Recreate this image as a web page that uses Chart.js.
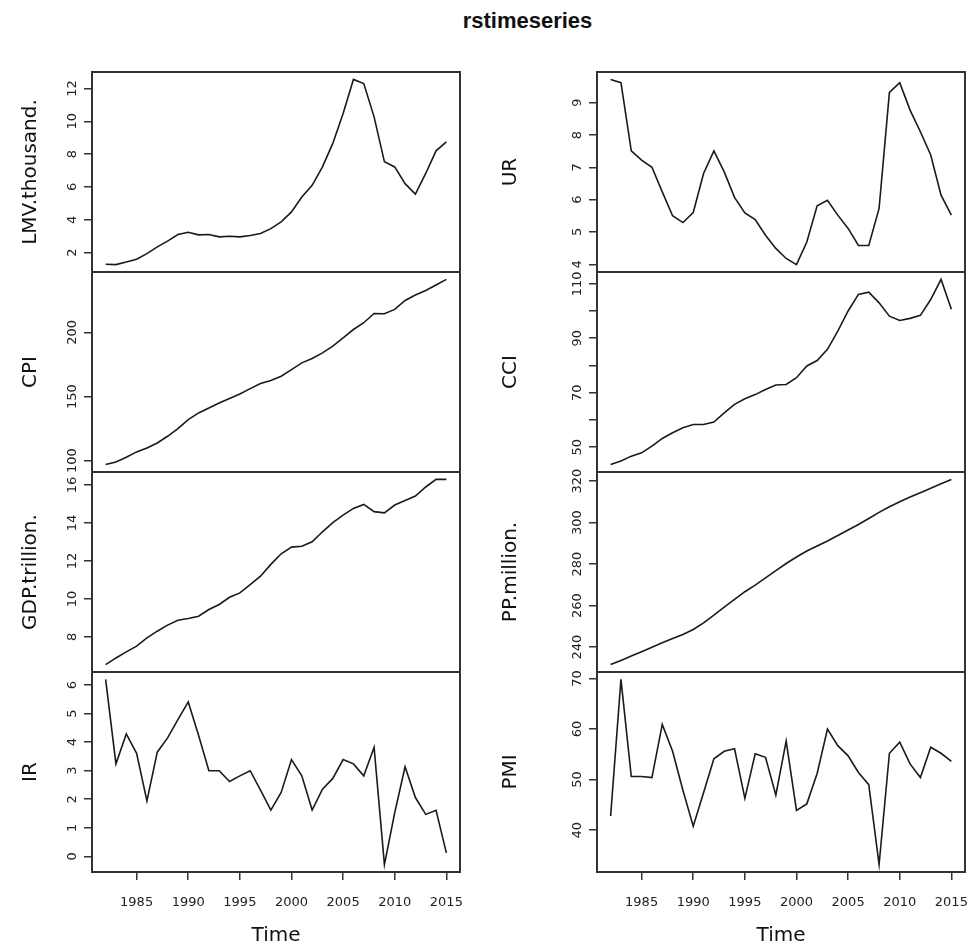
<!DOCTYPE html>
<html>
<head>
<meta charset="utf-8">
<script src="https://cdn.jsdelivr.net/npm/chart.js@4.4.1/dist/chart.umd.min.js"></script>
<style>
body { margin: 0; background: #fff; width: 971px; height: 952px; position: relative; overflow: hidden; }
canvas { position: absolute; }
#title { position: absolute; left: 0; width: 1055px; top: 8px; text-align: center; font: bold 22px "Liberation Sans", Arial, sans-serif; color: #111; }
</style>
</head>
<body>
<div id="title">rstimeseries</div>
<script>
// years of the series
const years = [1982, 1983, 1984, 1985, 1986, 1987, 1988, 1989, 1990, 1991, 1992, 1993, 1994, 1995, 1996, 1997, 1998,
               1999, 2000, 2001, 2002, 2003, 2004, 2005, 2006, 2007, 2008, 2009, 2010, 2011, 2012, 2013, 2014, 2015];

// left column
const lmv = [1.29, 1.27, 1.43, 1.6, 1.94, 2.35, 2.7, 3.1, 3.24, 3.08, 3.1, 2.96, 3.0, 2.96, 3.04, 3.16, 3.46,
             3.87, 4.48, 5.39, 6.1, 7.22, 8.65, 10.48, 12.55, 12.3, 10.27, 7.53, 7.22, 6.2, 5.56, 6.82, 8.2, 8.75];
const cpi = [96.9, 99, 102.6, 106.8, 109.9, 113.8, 119, 125, 132, 137.2, 141.1, 145, 148.4, 152, 156.2, 160.2, 162.5,
             165.9, 171, 176.3, 179.7, 184.1, 189.3, 195.8, 202.3, 207.6, 214.8, 214.6, 218, 225, 229.2, 232.8, 237, 241.4];
const gdp = [6.54, 6.89, 7.21, 7.51, 7.95, 8.3, 8.62, 8.88, 8.97, 9.09, 9.44, 9.71, 10.09, 10.32, 10.76, 11.2, 11.82,
             12.38, 12.73, 12.78, 13.01, 13.54, 14.02, 14.42, 14.77, 14.98, 14.6, 14.54, 14.95, 15.19, 15.42, 15.9, 16.3, 16.3];
const ir = [6.2, 3.24, 4.29, 3.61, 1.94, 3.65, 4.15, 4.79, 5.41, 4.24, 3.0, 3.0, 2.62, 2.82, 3.0, 2.32, 1.62,
            2.24, 3.39, 2.82, 1.62, 2.35, 2.73, 3.39, 3.24, 2.82, 3.82, -0.29, 1.53, 3.14, 2.06, 1.47, 1.61, 0.12];

// right column
const ur = [9.72, 9.62, 7.51, 7.22, 7.0, 6.24, 5.5, 5.29, 5.6, 6.81, 7.51, 6.86, 6.07, 5.59, 5.38, 4.9, 4.49,
            4.18, 3.99, 4.69, 5.81, 5.98, 5.52, 5.11, 4.58, 4.58, 5.73, 9.32, 9.62, 8.77, 8.1, 7.38, 6.14, 5.52];
const cci = [43.6, 44.9, 46.7, 47.9, 50.4, 53.2, 55.3, 57.1, 58.3, 58.3, 59.2, 62.6, 65.7, 67.8, 69.3, 71.2, 72.8,
             73.0, 75.5, 79.8, 81.8, 85.9, 92.6, 100, 106.1, 106.9, 103, 98.1, 96.5, 97.3, 98.4, 104.2, 111.6, 100.6];
const pp = [231.6, 233.6, 235.7, 237.8, 240.0, 242.1, 244.2, 246.1, 248.5, 251.7, 255.4, 259.3, 263.0, 266.7, 269.9, 273.4, 276.9,
            280.3, 283.4, 286.3, 288.7, 291.1, 293.8, 296.4, 299.1, 302.0, 304.9, 307.6, 310.0, 312.3, 314.4, 316.5, 318.7, 320.8];
const pmi = [42.8, 69.8, 50.6, 50.6, 50.4, 60.9, 55.6, 47.9, 40.8, 47.4, 54.1, 55.6, 56.1, 46.3, 55.1, 54.4, 46.9,
             57.6, 43.9, 45.2, 51.2, 60.0, 56.7, 54.7, 51.4, 49.0, 33.2, 55.2, 57.4, 53.1, 50.4, 56.4, 55.2, 53.6];

// tick values / labels
const xTicks = [1985, 1990, 1995, 2000, 2005, 2010, 2015];
const lmvTicks = [2, 4, 6, 8, 10, 12];
const cpiTicks = [100, 150, 200];
const gdpTicks = [8, 10, 12, 14, 16];
const irTicks = [0, 1, 2, 3, 4, 5, 6];
const urTicks = [4, 5, 6, 7, 8, 9];
const cciTicks = [50, 60, 70, 80, 90, 100, 110];
const cciLabels = [50, 70, 90, 110];
const ppTicks = [240, 260, 280, 300, 320];
const pmiTicks = [40, 50, 60, 70];

const FONT = '"DejaVu Sans", sans-serif';

// R style: range plus 4% each side
function rRange(arr) {
    const lo = Math.min(...arr), hi = Math.max(...arr);
    const d = (hi - lo) * 0.04;
    return [lo - d, hi + d];
}
const [xMin, xMax] = rRange(years);

// box round the plot area + rotated y tick labels
const framePlugin = {
    id: 'frame',
    afterDraw(chart, args, opts) {
        const { ctx, chartArea: a } = chart;
        const y = chart.scales.y;
        ctx.save();
        ctx.strokeStyle = '#333';
        ctx.lineWidth = 2;
        ctx.strokeRect(a.left, a.top, a.right - a.left, a.bottom - a.top);
        ctx.fillStyle = '#222';
        ctx.font = '13px ' + FONT;
        ctx.textAlign = 'center';
        ctx.textBaseline = 'middle';
        opts.labels.forEach(v => {
            ctx.save();
            ctx.translate(a.left - 19, y.getPixelForValue(v));
            ctx.rotate(-Math.PI / 2);
            ctx.fillText(String(v), 0, 0);
            ctx.restore();
        });
        ctx.restore();
    }
};

const panels = [
    { label: 'LMV.thousand.', data: lmv, ticks: lmvTicks, labels: lmvTicks, col: 0, row: 0 },
    { label: 'CPI', data: cpi, ticks: cpiTicks, labels: cpiTicks, col: 0, row: 1 },
    { label: 'GDP.trillion.', data: gdp, ticks: gdpTicks, labels: gdpTicks, col: 0, row: 2 },
    { label: 'IR', data: ir, ticks: irTicks, labels: irTicks, col: 0, row: 3 },
    { label: 'UR', data: ur, ticks: urTicks, labels: urTicks, col: 1, row: 0 },
    { label: 'CCI', data: cci, ticks: cciTicks, labels: cciLabels, col: 1, row: 1 },
    { label: 'PP.million.', data: pp, ticks: ppTicks, labels: ppTicks, col: 1, row: 2 },
    { label: 'PMI', data: pmi, ticks: pmiTicks, labels: pmiTicks, col: 1, row: 3 }
];

const PANEL_TOP = 72, PANEL_H = 200, PAD = 14, XAXIS_H = 76;

panels.forEach(p => {
    const bottomRow = p.row === 3;
    const cv = document.createElement('canvas');
    const left = p.col === 0 ? 0 : 480;
    const width = p.col === 0 ? 480 : 515;
    const yWidth = p.col === 0 ? 92 : 117;
    const padRight = p.col === 0 ? 20 : 30;
    const height = PAD + PANEL_H + (bottomRow ? XAXIS_H : PAD);
    cv.width = width;
    cv.height = height;
    cv.style.left = left + 'px';
    cv.style.top = (PANEL_TOP + p.row * PANEL_H - PAD) + 'px';
    document.body.appendChild(cv);

    const [yMin, yMax] = rRange(p.data);

    new Chart(cv, {
        type: 'line',
        data: {
            datasets: [{
                data: years.map((yr, i) => ({ x: yr, y: p.data[i] })),
                borderColor: '#1a1a1a',
                borderWidth: 1.6,
                pointRadius: 0,
                tension: 0,
                fill: false
            }]
        },
        options: {
            responsive: false,
            animation: false,
            devicePixelRatio: 1,
            layout: { padding: { top: PAD, bottom: bottomRow ? 0 : PAD, left: 0, right: padRight } },
            plugins: {
                legend: { display: false },
                tooltip: { enabled: false },
                frame: { labels: p.labels }
            },
            scales: {
                x: {
                    type: 'linear',
                    min: xMin,
                    max: xMax,
                    display: bottomRow,
                    afterBuildTicks: ax => { ax.ticks = xTicks.map(v => ({ value: v })); },
                    afterFit: ax => { ax.height = bottomRow ? XAXIS_H : 0; },
                    grid: { drawOnChartArea: false, drawTicks: true, tickLength: 8, color: '#333', lineWidth: 1.5 },
                    border: { display: false },
                    ticks: {
                        padding: 15, color: '#222', autoSkip: false, maxRotation: 0,
                        font: { family: FONT, size: 13 },
                        callback: v => String(v)
                    },
                    title: { display: true, text: 'Time', color: '#111', font: { family: FONT, size: 20 }, padding: { top: 0, bottom: 0 } }
                },
                y: {
                    type: 'linear',
                    min: yMin,
                    max: yMax,
                    afterBuildTicks: ax => { ax.ticks = p.ticks.map(v => ({ value: v })); },
                    afterFit: ax => { ax.width = yWidth; },
                    grid: { drawOnChartArea: false, drawTicks: true, tickLength: 8, color: '#333', lineWidth: 1.5 },
                    border: { display: false },
                    ticks: { display: false },
                    title: { display: true, text: p.label, color: '#111', font: { family: FONT, size: 20 }, padding: { top: 19, bottom: 0 } }
                }
            }
        },
        plugins: [framePlugin]
    });
});
</script>
</body>
</html>
